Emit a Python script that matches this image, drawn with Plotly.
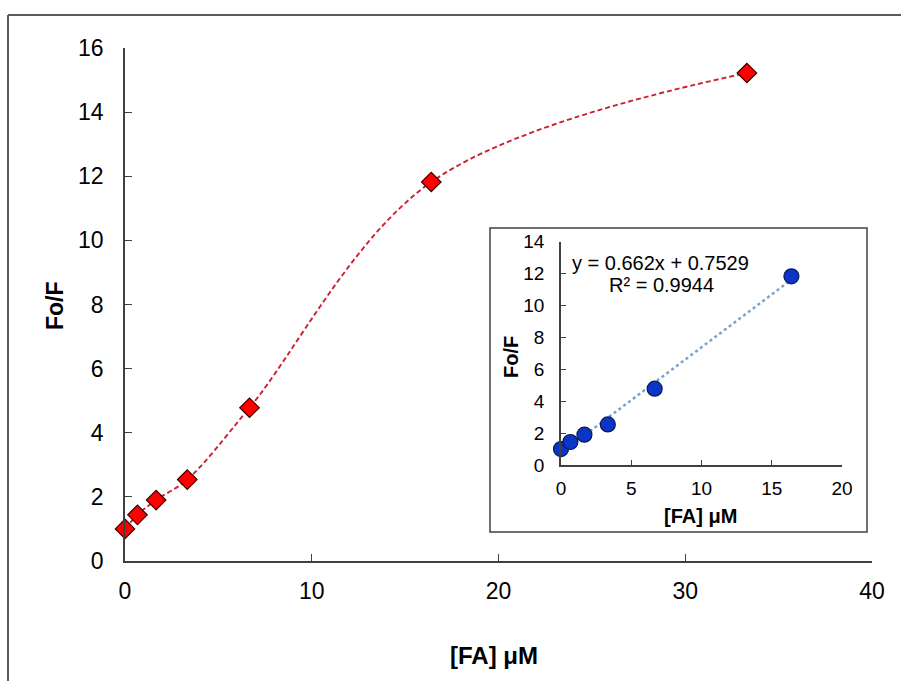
import plotly.graph_objects as go

# Data
fa_main = [0, 0.667, 1.667, 3.333, 6.667, 16.4, 33.3]
fof_main = [1.0, 1.44, 1.9, 2.54, 4.78, 11.82, 15.22]

fa_inset = [0, 0.667, 1.667, 3.333, 6.667, 16.4]
fof_inset = [1.0, 1.44, 1.9, 2.54, 4.78, 11.82]

slope = 0.662
intercept = 0.7529
r2 = 0.9944

main_xticks = [0, 10, 20, 30, 40]
main_yticks = [0, 2, 4, 6, 8, 10, 12, 14, 16]
inset_xticks = [0, 5, 10, 15, 20]
inset_yticks = [0, 2, 4, 6, 8, 10, 12, 14]

W, H = 901, 681
def px(x):
    return x / W
def py(y):
    return (H - y) / H

FONT = "Liberation Sans, Arial, sans-serif"
AXC = "#404040"

fig = go.Figure()

fig.add_trace(go.Scatter(
    x=fa_main, y=fof_main, mode="lines+markers",
    line=dict(color="#cc2030", width=1.9, dash="5px,3px", shape="spline", smoothing=1.0),
    marker=dict(symbol="diamond", size=15, color="#ff0000", line=dict(color="#3a0000", width=1.2)),
    cliponaxis=False, showlegend=False, xaxis="x", yaxis="y",
))

trend_x = [0, max(fa_inset)]
trend_y = [slope * v + intercept for v in trend_x]
fig.add_trace(go.Scatter(
    x=trend_x, y=trend_y, mode="lines",
    line=dict(color="#7aa3cc", width=2.5, dash="dot"),
    cliponaxis=False, showlegend=False, xaxis="x2", yaxis="y2",
))
fig.add_trace(go.Scatter(
    x=fa_inset, y=fof_inset, mode="markers",
    marker=dict(symbol="circle", size=15, color="#0a35c8", line=dict(color="#0a1a50", width=1.2)),
    cliponaxis=False, showlegend=False, xaxis="x2", yaxis="y2",
))

def ax(size, ticklen, standoff):
    return dict(showline=True, linecolor=AXC, linewidth=1.5, ticks="inside",
                tickcolor=AXC, tickwidth=1.3, ticklen=ticklen, showgrid=False, zeroline=False,
                automargin=False, ticklabelstandoff=standoff,
                tickfont=dict(family=FONT, size=size, color="black"))

fig.update_layout(
    template="none",
    width=W, height=H, margin=dict(l=0, r=0, t=0, b=0, pad=0, autoexpand=False),
    paper_bgcolor="white", plot_bgcolor="rgba(0,0,0,0)",
    xaxis=dict(domain=[px(125), px(872)], range=[0, 40], tickvals=main_xticks, anchor="y", **ax(23, 7, 9)),
    yaxis=dict(domain=[py(561), py(48)], range=[0, 16], tickvals=main_yticks, anchor="x", **ax(23, 7, 15)),
    xaxis2=dict(domain=[px(561), px(842)], range=[0, 20], tickvals=inset_xticks, anchor="y2", **ax(19, 5, 5)),
    yaxis2=dict(domain=[py(465), py(241.5)], range=[0, 14], tickvals=inset_yticks, anchor="x2", **ax(19, 5, 11)),
)

# Frames
fig.add_shape(type="line", xref="paper", yref="paper", x0=px(8), x1=1.0, y0=py(15), y1=py(15),
              line=dict(color="#5a5a5a", width=2))
fig.add_shape(type="line", xref="paper", yref="paper", x0=px(8), x1=px(8), y0=py(15), y1=0,
              line=dict(color="#5a5a5a", width=2))
fig.add_shape(type="rect", xref="paper", yref="paper", x0=px(490), x1=px(867), y0=py(532), y1=py(228),
              line=dict(color="#404040", width=1.5), fillcolor="white", layer="below")

def label(text, x, y, size, angle=0):
    fig.add_annotation(text=text, xref="paper", yref="paper", x=px(x), y=py(y),
                       xanchor="center", yanchor="middle", showarrow=False, textangle=angle,
                       font=dict(family=FONT, size=size, color="black"))

# Titles
label("<b>[FA] μM</b>", 494, 655, 24)
label("<b>Fo/F</b>", 55, 306, 23, -90)
label("<b>[FA] μM</b>", 700, 516, 20)
label("<b>Fo/F</b>", 511, 357, 20, -90)
label(f"y = {slope}x + {intercept}", 660, 263, 20)
label(f"R² = {r2}", 661, 285, 20)

fig.write_html("out.html", config={"displayModeBar": False},
               post_script="document.body.style.margin='0';")
